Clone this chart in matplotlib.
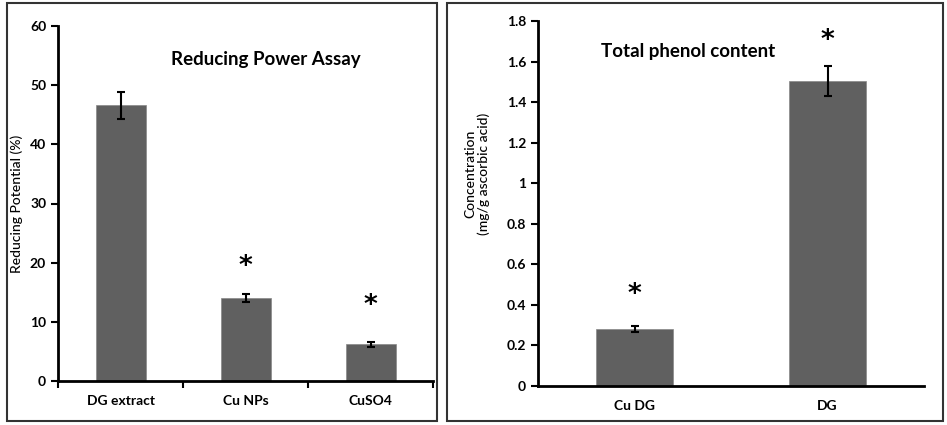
import matplotlib
matplotlib.use('Agg')
import matplotlib.pyplot as plt
from matplotlib.patches import Rectangle

plt.rcParams['font.family'] = ['Lato', 'DejaVu Sans']

# left panel data
rp_labels = ['DG extract', 'Cu NPs', 'CuSO4']
rp_values = [46.6, 14.0, 6.2]
rp_errors = [2.3, 0.7, 0.4]
rp_star = [None, 19.3, 12.7]

# right panel data
tp_labels = ['Cu DG', 'DG']
tp_values = [0.28, 1.505]
tp_errors = [0.015, 0.075]
tp_star = [0.45, 1.70]

W, H = 947, 425
fig = plt.figure(figsize=(W / 100, H / 100), dpi=100)

def px_axes(x0, y0, x1, y1):
    return fig.add_axes([x0 / W, (H - y1) / H, (x1 - x0) / W, (y1 - y0) / H])

# outer frames
for fx0, fx1 in [(7, 437), (447, 943)]:
    fig.patches.append(Rectangle((fx0 / W, 4 / H), (fx1 - fx0) / W, (422 - 4) / H,
                                 transform=fig.transFigure, fill=False,
                                 edgecolor='#333333', linewidth=1.5))

bar_color = '#606060'


def style(ax):
    for s in ['top', 'right']:
        ax.spines[s].set_visible(False)
    for s in ['left', 'bottom']:
        ax.spines[s].set_linewidth(2)
    ax.tick_params(axis='y', length=5, width=1.5, labelsize=10)
    for t in ax.get_yticklabels():
        t.set_fontweight('bold')


# ---- Reducing power assay
ax1 = px_axes(58, 26, 433, 381)
x1 = range(len(rp_labels))
ax1.bar(x1, rp_values, width=0.4, color=bar_color, edgecolor='#888888', linewidth=0.5,
        yerr=rp_errors, error_kw=dict(ecolor='black', elinewidth=1.5, capsize=3, capthick=1.5))
ax1.set_xlim(-0.5, 2.5)
ax1.set_ylim(0, 60)
ax1.set_yticks(range(0, 61, 10))
ax1.set_xticks(list(x1))
ax1.set_xticklabels(rp_labels, fontsize=10, fontweight='bold')
ax1.set_xticks([-0.5, 0.5, 1.5, 2.5], minor=True)
ax1.tick_params(axis='x', which='major', length=0, pad=10)
ax1.tick_params(axis='x', which='minor', length=5, width=1.5)
ax1.set_ylabel('Reducing Potential (%)', fontsize=10, fontweight='medium')
ax1.yaxis.set_label_coords(-0.093, 0.5)
style(ax1)
ax1.text(1.16, 54.3, 'Reducing Power Assay', fontsize=13.5, fontweight='bold',
         ha='center', va='center')
for i, s in enumerate(rp_star):
    if s is not None:
        ax1.text(i, s, '*', fontsize=19, fontweight='bold', ha='center', va='center',
                 family='DejaVu Sans')

# ---- Total phenol content
ax2 = px_axes(538, 21, 924, 386)
x2 = range(len(tp_labels))
ax2.bar(x2, tp_values, width=0.4, color=bar_color, edgecolor='#888888', linewidth=0.5,
        yerr=tp_errors, error_kw=dict(ecolor='black', elinewidth=1.5, capsize=3, capthick=1.5))
ax2.set_xlim(-0.5, 1.5)
ax2.set_ylim(0, 1.8)
ax2.set_yticks([0, 0.2, 0.4, 0.6, 0.8, 1.0, 1.2, 1.4, 1.6, 1.8])
ax2.set_yticklabels(['0', '0.2', '0.4', '0.6', '0.8', '1', '1.2', '1.4', '1.6', '1.8'])
ax2.set_xticks(list(x2))
ax2.set_xticklabels(tp_labels, fontsize=10, fontweight='bold')
ax2.tick_params(axis='x', length=0, pad=10)
ax2.set_ylabel('Concentration\n(mg/g ascorbic acid)', fontsize=10, fontweight='medium',
               linespacing=1.1)
ax2.yaxis.set_label_coords(-0.124, 0.58)
style(ax2)
ax2.text(0.28, 1.65, 'Total phenol content', fontsize=13.5, fontweight='bold',
         ha='center', va='center')
for i, s in enumerate(tp_star):
    ax2.text(i, s, '*', fontsize=19, fontweight='bold', ha='center', va='center',
             family='DejaVu Sans')

fig.savefig('out.png', dpi=100)
